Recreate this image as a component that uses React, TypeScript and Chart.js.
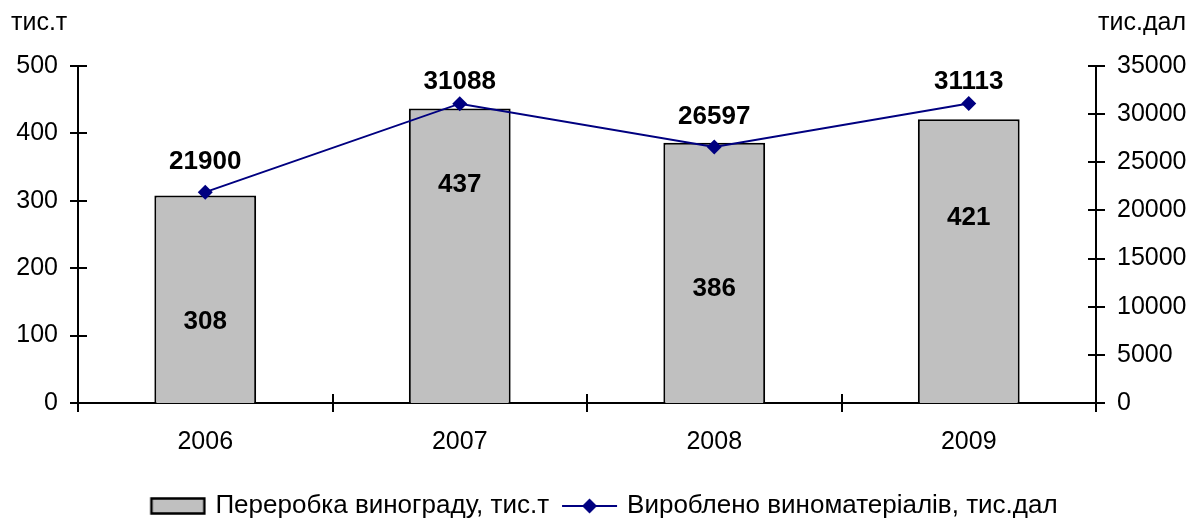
import React, { useEffect, useRef } from "react";
import { Chart, registerables } from "chart.js";

Chart.register(...registerables);

const years = ["2006", "2007", "2008", "2009"];
const grapeProcessing = [308, 437, 386, 421];
const wineMaterials = [21900, 31088, 26597, 31113];
const barLabelAt = [120, 323, 169, 274];
const leftTicks = [0, 100, 200, 300, 400, 500];
const rightTicks = [0, 5000, 10000, 15000, 20000, 25000, 30000, 35000];
const barLegend = "Переробка винограду, тис.т";
const lineLegend = "Вироблено виноматеріалів, тис.дал";
const leftUnit = "тис.т";
const rightUnit = "тис.дал";

const FONT = "'Liberation Sans', Arial, sans-serif";
const NAVY = "#000080";
const GREY = "#C0C0C0";

function makeBarIcon(): HTMLCanvasElement {
  const c = document.createElement("canvas");
  c.width = 70;
  c.height = 18;
  const ctx = c.getContext("2d")!;
  ctx.fillStyle = GREY;
  ctx.fillRect(15, 1.5, 53, 15);
  ctx.strokeStyle = "#000";
  ctx.lineWidth = 2.5;
  ctx.strokeRect(15, 1.5, 53, 15);
  return c;
}

function makeLineIcon(): HTMLCanvasElement {
  const c = document.createElement("canvas");
  c.width = 70;
  c.height = 18;
  const ctx = c.getContext("2d")!;
  ctx.strokeStyle = NAVY;
  ctx.lineWidth = 2;
  ctx.beginPath();
  ctx.moveTo(14, 9);
  ctx.lineTo(69, 9);
  ctx.stroke();
  ctx.fillStyle = NAVY;
  ctx.beginPath();
  const cx = 41.5;
  ctx.moveTo(cx - 7.5, 9);
  ctx.lineTo(cx, 1.5);
  ctx.lineTo(cx + 7.5, 9);
  ctx.lineTo(cx, 16.5);
  ctx.closePath();
  ctx.fill();
  return c;
}

const decorPlugin = {
  id: "decor",
  afterDatasetsDraw(chart: any) {
    const ctx = chart.ctx;
    const x = chart.scales.x;
    const yl = chart.scales.y;
    const yr = chart.scales.y1;
    const area = chart.chartArea;
    ctx.save();
    ctx.strokeStyle = "#000";
    ctx.lineWidth = 2;
    ctx.beginPath();
    leftTicks.forEach((v) => {
      const py = Math.round(yl.getPixelForValue(v));
      ctx.moveTo(area.left - 8, py);
      ctx.lineTo(area.left + 9, py);
    });
    rightTicks.forEach((v) => {
      const py = Math.round(yr.getPixelForValue(v));
      ctx.moveTo(area.right - 8, py);
      ctx.lineTo(area.right + 9, py);
    });
    const step = x.getPixelForTick(1) - x.getPixelForTick(0);
    for (let i = 0; i <= years.length; i++) {
      const px = Math.round(x.getPixelForTick(0) + (i - 0.5) * step);
      ctx.moveTo(px, area.bottom - 9);
      ctx.lineTo(px, area.bottom + 9);
    }
    ctx.stroke();

    ctx.fillStyle = "#000";
    ctx.font = `bold 26px ${FONT}`;
    ctx.textAlign = "center";
    ctx.textBaseline = "middle";
    grapeProcessing.forEach((v, i) => {
      ctx.fillText(String(v), x.getPixelForValue(i), yl.getPixelForValue(barLabelAt[i]));
    });
    wineMaterials.forEach((v, i) => {
      const py = Math.max(yr.getPixelForValue(v) - 30, area.top + 16);
      ctx.fillText(String(v), x.getPixelForValue(i), py);
    });

    ctx.font = `25px ${FONT}`;
    ctx.textAlign = "left";
    ctx.fillText(leftUnit, 11, 23);
    ctx.textAlign = "right";
    ctx.fillText(rightUnit, 1186, 23);
    ctx.restore();
  },
};

export default function App() {
  const ref = useRef<HTMLCanvasElement | null>(null);
  useEffect(() => {
    if (!ref.current) return;
    const barIcon = makeBarIcon();
    const lineIcon = makeLineIcon();
    const tickFont = { family: FONT, size: 25 };
    const chart = new Chart(ref.current, {
      type: "bar",
      data: {
        labels: years,
        datasets: [
          {
            type: "line",
            label: lineLegend,
            data: wineMaterials,
            yAxisID: "y1",
            borderColor: NAVY,
            backgroundColor: NAVY,
            borderWidth: 2,
            pointStyle: "rectRot",
            pointRadius: 7.5,
            pointBorderWidth: 0,
            tension: 0,
            order: 0,
          } as any,
          {
            type: "bar",
            label: barLegend,
            data: grapeProcessing,
            yAxisID: "y",
            backgroundColor: GREY,
            borderColor: "#000",
            borderWidth: 2,
            barPercentage: 0.4,
            categoryPercentage: 1,
            order: 1,
          },
        ],
      },
      options: {
        animation: false,
        responsive: true,
        maintainAspectRatio: false,
        layout: { padding: { top: 66, left: 0, right: 0, bottom: -10 } },
        plugins: {
          tooltip: { enabled: false },
          legend: {
            position: "bottom",
            labels: {
              usePointStyle: true,
              pointStyleWidth: 62,
              padding: 3,
              color: "#000",
              font: { family: FONT, size: 26 },
              generateLabels: () => [
                { text: barLegend, pointStyle: barIcon, fillStyle: GREY, strokeStyle: "#000", lineWidth: 0, hidden: false, datasetIndex: 1 } as any,
                { text: lineLegend, pointStyle: lineIcon, fillStyle: NAVY, strokeStyle: NAVY, lineWidth: 0, hidden: false, datasetIndex: 0 } as any,
              ],
            },
          },
        },
        scales: {
          x: {
            offset: true,
            grid: { display: false, drawTicks: false },
            border: { display: true, color: "#000", width: 2 },
            ticks: { color: "#000", font: tickFont, padding: 24 },
            afterFit: (s: any) => { s.height = 87; },
          },
          y: {
            position: "left",
            min: 0,
            max: 500,
            grid: { display: false, drawTicks: false },
            border: { display: true, color: "#000", width: 2 },
            ticks: { stepSize: 100, color: "#000", font: tickFont, padding: 20 },
            afterFit: (s: any) => { s.width = 78; },
          },
          y1: {
            position: "right",
            min: 0,
            max: 35000,
            grid: { display: false, drawTicks: false },
            border: { display: true, color: "#000", width: 2 },
            ticks: {
              stepSize: 5000,
              color: "#000",
              font: tickFont,
              padding: 21,
              callback: (v: any) => String(v),
            },
            afterFit: (s: any) => { s.width = 102; },
          },
        },
      },
      plugins: [decorPlugin],
    });
    return () => chart.destroy();
  }, []);

  return (
    <div style={{ position: "fixed", left: 0, top: 0, width: 1198, height: 519, background: "#fff" }}>
      <canvas ref={ref} />
    </div>
  );
}
